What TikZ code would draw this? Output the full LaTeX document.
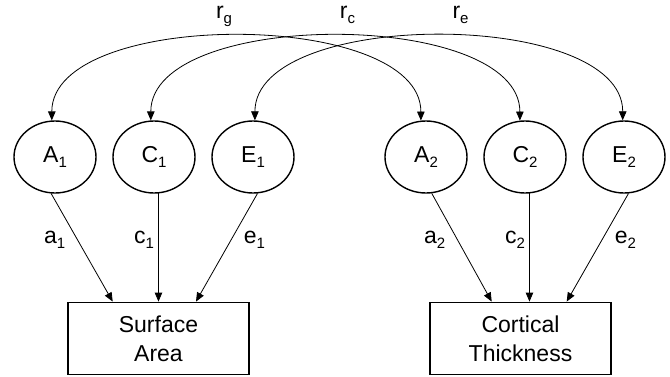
\documentclass[tikz,border=0pt]{standalone}
\usepackage{fontspec}
\setmainfont{Liberation Sans}
\usetikzlibrary{arrows.meta,positioning,shapes.geometric}
% lowered index for the labels
\newcommand{\sbs}[1]{\raisebox{-5pt}{\fontsize{15}{15}\selectfont #1}}
\tikzset{
    %Define standard arrow tip
    >={Triangle[length=9pt,width=7.5pt]},
    %Define style for latent factors
    factor/.style={
           ellipse,
           draw=black, line width=1.4pt,
           minimum width=82pt,
           minimum height=72pt,
           inner sep=0pt,
           font=\fontsize{23}{28}\selectfont,
           text centered,
           },
    %Define style for measured traits
    trait/.style={
           rectangle,
           draw=black, line width=1.4pt,
           minimum width=181pt,
           minimum height=72pt,
           align=center,
           font=\fontsize{23}{29}\selectfont,
           },
    pathlabel/.style={
           inner sep=0pt,
           font=\fontsize{23}{28}\selectfont,
           },
    % Define arrow styles
    pil/.style={->, line width=0.8pt},
    corr/.style={<->, line width=0.8pt},
}
\begin{document}
\begin{tikzpicture}[x=1pt,y=1pt]
\useasboundingbox (0,0) rectangle (670,376);

 %nodes
\node[factor] (A1) at (55,219) {A\sbs{1}};
\node[factor, right=15.6pt of A1] (C1) {C\sbs{1}};
\node[factor, right=15.6pt of C1] (E1) {E\sbs{1}};
\node[factor, right=89.6pt of E1] (A2) {A\sbs{2}};
\node[factor, right=15.6pt of A2] (C2) {C\sbs{2}};
\node[factor, right=15.6pt of C2] (E2) {E\sbs{2}};
\node[trait] (SA) at (158.5,37.7) {Surface\\Area};
\node[trait] (CT) at (520.5,37.7) {Cortical\\Thickness};

 %correlations
\draw[corr] (A1.95) .. controls +(0,112) and +(0,112) .. (A2.98);
\draw[corr] (C1.95) .. controls +(0,112) and +(0,112) .. (C2.98);
\draw[corr] (E1.87) .. controls +(0,112) and +(0,112) .. (E2.92);
\node[pathlabel, anchor=base] (rg) at (224,358) {r\sbs{g}};
\node[pathlabel, anchor=base] (rc) at (347.5,358) {r\sbs{c}};
\node[pathlabel, anchor=base] (re) at (460.5,358) {r\sbs{e}};

 %paths
\draw[pil] (A1.264) -- node[pathlabel, pos=.43, left=12pt] (la1) {a\sbs{1}} ([xshift=-45.8pt]SA.north);
\draw[pil] (C1.277) -- node[pathlabel, pos=.43, left=4pt] (lc1) {c\sbs{1}} (C1.277 |- SA.north);
\draw[pil] (E1.277) -- node[pathlabel, pos=.43, right=12.5pt] (le1) {e\sbs{1}} ([xshift=37.5pt]SA.north);
\draw[pil] (A2.279) -- node[pathlabel, pos=.43, left=12pt] (la2) {a\sbs{2}} ([xshift=-28.8pt]CT.north);
\draw[pil] (C2.277) -- node[pathlabel, pos=.43, left=4pt] (lc2) {c\sbs{2}} (C2.277 |- CT.north);
\draw[pil] (E2.277) -- node[pathlabel, pos=.43, right=12.5pt] (le2) {e\sbs{2}} ([xshift=46.2pt]CT.north);

\end{tikzpicture}
\end{document}
